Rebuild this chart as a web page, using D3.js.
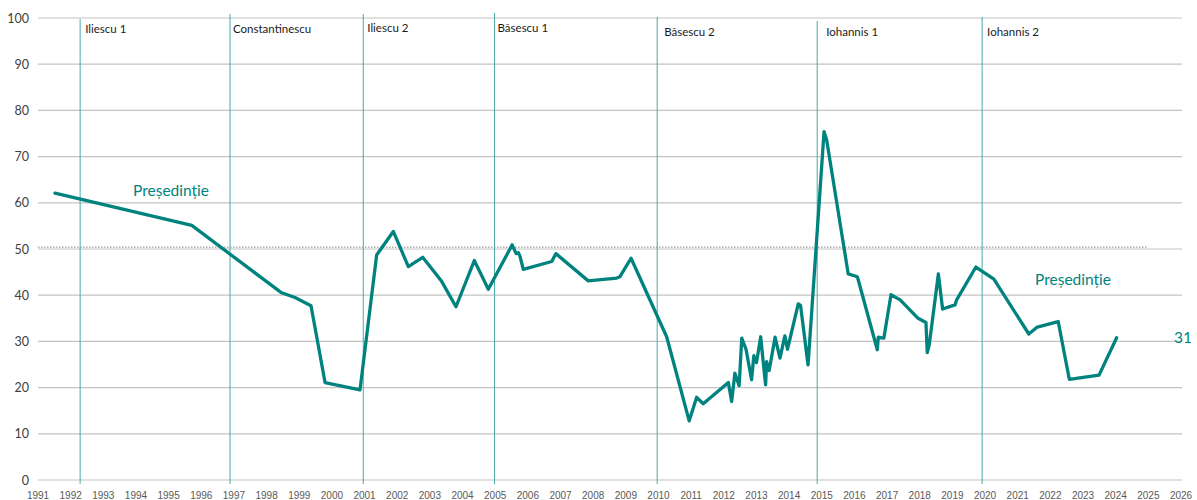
<!DOCTYPE html>
<html>
<head>
<meta charset="utf-8">
<script src="https://cdn.jsdelivr.net/npm/d3@7"></script>
<style>
  html, body { margin: 0; padding: 0; background: #fff; }
  svg { display: block; }
</style>
</head>
<body>
<svg id="chart" width="1197" height="500"></svg>
<script>
// ---- Data ----
const years = [
  1991.52, 1995.71, 1998.44, 1998.87, 1999.36, 1999.79, 2000.86, 2001.37, 2001.88,
  2002.34, 2002.78, 2003.36, 2003.80, 2004.36, 2004.79, 2005.52, 2005.64, 2005.71,
  2005.76, 2005.86, 2006.73, 2006.86, 2007.85, 2008.72, 2008.82, 2009.16, 2010.25,
  2010.94, 2011.17, 2011.37, 2012.14, 2012.24, 2012.34, 2012.47, 2012.55, 2012.68,
  2012.85, 2012.92, 2013.00, 2013.13, 2013.21, 2013.28, 2013.31, 2013.39, 2013.57,
  2013.72, 2013.87, 2013.95, 2014.28, 2014.35, 2014.58, 2015.07, 2015.15, 2015.81,
  2016.09, 2016.70, 2016.73, 2016.90, 2017.12, 2017.40, 2017.95, 2018.19, 2018.23,
  2018.29, 2018.57, 2018.70, 2019.08, 2019.13, 2019.72, 2020.27, 2021.34, 2021.60,
  2022.24, 2022.58, 2023.49, 2024.03
];
const values = [
  62.1, 55.1, 40.6, 39.5, 37.7, 21.1, 19.5, 48.7, 53.8,
  46.2, 48.2, 43.0, 37.5, 47.5, 41.3, 50.9, 49.0, 49.2,
  48.4, 45.6, 47.3, 49.0, 43.1, 43.7, 44.0, 48.0, 31.0,
  12.8, 17.9, 16.5, 21.1, 17.0, 23.1, 20.4, 30.7, 28.3,
  21.7, 26.9, 25.4, 31.0, 25.3, 20.6, 25.6, 23.7, 30.9,
  26.4, 31.2, 28.3, 38.1, 37.8, 24.9, 75.4, 73.6, 44.6,
  44.0, 28.2, 30.9, 30.7, 40.1, 39.0, 35.0, 34.1, 27.6,
  29.2, 44.6, 37.0, 37.9, 39.0, 46.1, 43.5, 31.6, 33.1,
  34.3, 21.8, 22.7, 30.8
];
const presidents = ["Iliescu 1", "Constantinescu", "Iliescu 2", "Băsescu 1", "Băsescu 2", "Iohannis 1", "Iohannis 2"];
const presidentStarts = [1992.29, 1996.88, 2000.96, 2004.98, 2009.96, 2014.86, 2019.91];
const yTicks = [0, 10, 20, 30, 40, 50, 60, 70, 80, 90, 100];
const xTicks = d3.range(1991, 2027);
const referenceLevel = 50.4;
const seriesName = "Președinție";
const lastLabel = "31";

// ---- Layout / style (kept apart from the data) ----
const labelOffsets = [ // [dx, y] for president labels, top of line
  [5, 28, 19], [3, 28, 14], [4, 27, 14], [3, 27, 13], [7, 31, 17], [9, 31, 21], [5, 31, 17]
];
const teal = "#00837e";
const vTeal = "#4aa9a7";

const svg = d3.select("#chart");
const x = d3.scaleLinear().domain([1991, 2026]).range([38, 1181]);
const y = d3.scaleLinear().domain([0, 100]).range([480, 18]);

// horizontal gridlines
svg.append("g").selectAll("line").data(yTicks).join("line")
  .attr("x1", 38).attr("x2", 1182)
  .attr("y1", d => y(d)).attr("y2", d => y(d))
  .attr("stroke", "#c4c4c4").attr("stroke-width", 1.2);

// y tick labels
svg.append("g").selectAll("text").data(yTicks).join("text")
  .attr("x", 29).attr("y", d => y(d))
  .attr("text-anchor", "end").attr("dominant-baseline", "central")
  .attr("font-family", "Lato, 'Open Sans', sans-serif").attr("font-size", 12.5)
  .attr("fill", "#404040")
  .text(d => d);

// x tick labels
svg.append("g").selectAll("text").data(xTicks).join("text")
  .attr("x", d => x(d)).attr("y", 495)
  .attr("text-anchor", "middle").attr("dominant-baseline", "central")
  .attr("font-family", "'Liberation Sans', Arial, sans-serif").attr("font-size", 10)
  .attr("fill", "#595959")
  .text(d => d);

// reference dotted line
svg.append("line")
  .attr("x1", 38).attr("x2", 1147)
  .attr("y1", y(referenceLevel)).attr("y2", y(referenceLevel))
  .attr("stroke", "#b0b0b0").attr("stroke-width", 1.5)
  .attr("stroke-dasharray", "1.5,1.5");

// presidency vertical lines
const pres = presidents.map((p, i) => ({ name: p, start: presidentStarts[i], off: labelOffsets[i] }));
svg.append("g").selectAll("line").data(pres).join("line")
  .attr("x1", d => x(d.start)).attr("x2", d => x(d.start))
  .attr("y1", d => d.off[2]).attr("y2", 484)
  .attr("stroke", vTeal).attr("stroke-width", 1);

svg.append("g").selectAll("text").data(pres).join("text")
  .attr("x", d => x(d.start) + d.off[0]).attr("y", d => d.off[1])
  .attr("dominant-baseline", "central")
  .attr("font-family", "Lato, 'Open Sans', sans-serif").attr("font-size", 11.5)
  .attr("fill", "#1a1a1a")
  .text(d => d.name);

// main series
const pts = years.map((yr, i) => [yr, values[i]]);
svg.append("path")
  .datum(pts)
  .attr("fill", "none")
  .attr("stroke", teal)
  .attr("stroke-width", 3.3)
  .attr("stroke-linejoin", "round")
  .attr("stroke-linecap", "round")
  .attr("d", d3.line().x(d => x(d[0])).y(d => y(d[1])));

// annotations
svg.append("text")
  .attr("x", x(1993.91)).attr("y", y(62.7))
  .attr("dominant-baseline", "central")
  .attr("font-family", "Lato, 'Open Sans', sans-serif").attr("font-size", 15.5)
  .attr("fill", teal).text(seriesName);
svg.append("text")
  .attr("x", x(2021.53)).attr("y", y(43.6))
  .attr("dominant-baseline", "central")
  .attr("font-family", "Lato, 'Open Sans', sans-serif").attr("font-size", 15.5)
  .attr("fill", teal).text(seriesName);
svg.append("text")
  .attr("x", 1174).attr("y", y(31))
  .attr("dominant-baseline", "central")
  .attr("font-family", "Lato, 'Open Sans', sans-serif").attr("font-size", 15.5)
  .attr("fill", teal).text(lastLabel);
</script>
</body>
</html>
